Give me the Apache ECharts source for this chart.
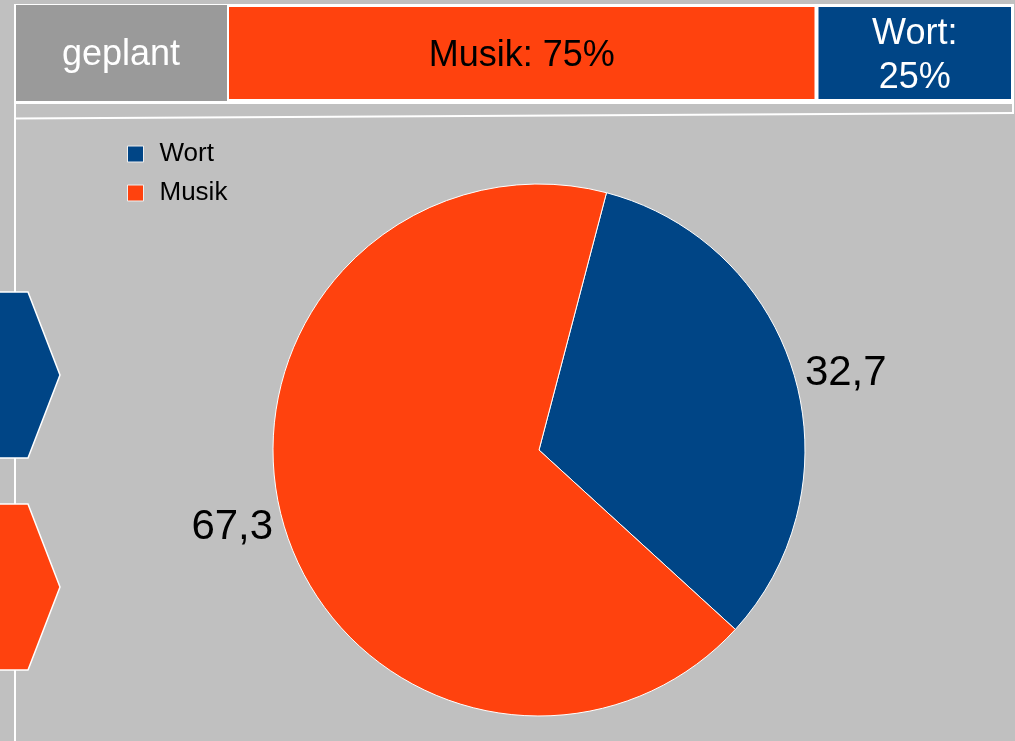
<!DOCTYPE html>
<html><head><meta charset="utf-8">
<script src="https://cdn.jsdelivr.net/npm/echarts@6/dist/echarts.min.js"></script>
<style>html,body{margin:0;padding:0;background:#c0c0c0;}#c{width:1015px;height:741px;}</style>
</head><body><div id="c"></div>
<script>
// Data
const pieNames = ['Wort', 'Musik'];
const pieValues = [32.7, 67.3];
const planNames = ['Musik', 'Wort'];
const planValues = [75, 25];
const planLabel = 'geplant';

const colors = { Wort: '#004586', Musik: '#ff420e' };
const FONT = 'Liberation Sans, Arial, sans-serif';

const chart = echarts.init(document.getElementById('c'), null, { renderer: 'canvas' });

const barSeries = planNames.map((n, i) => ({
  type: 'bar', name: n, stack: 'plan', barWidth: '100%',
  data: [planValues[i]],
  itemStyle: { color: colors[n], borderColor: '#ffffff', borderWidth: 2 },
  label: {
    show: true, position: 'inside', fontFamily: FONT, fontSize: 36, lineHeight: 44,
    offset: [0, 3],
    color: n === 'Musik' ? '#000000' : '#ffffff',
    formatter: p => n === 'Wort' ? p.seriesName + ':\n' + p.value + '%' : p.seriesName + ': ' + p.value + '%'
  },
  silent: true
}));

const option = {
  backgroundColor: '#c0c0c0',
  animation: false,
  grid: { left: 227, right: 2, top: 5, height: 96 },
  xAxis: { type: 'value', min: 0, max: 100, show: false },
  yAxis: { type: 'category', data: [planLabel], show: false },
  legend: {
    orient: 'vertical', left: 122, top: 136, itemWidth: 16, itemHeight: 16, itemGap: 13,
    data: pieNames, icon: 'rect',
    itemStyle: { borderColor: '#eeeeee', borderWidth: 1 },
    textStyle: { fontFamily: FONT, fontSize: 26, color: '#000', padding: [0, 0, 0, 11] }
  },
  graphic: [
    { type: 'rect', z: -1, shape: { x: 15, y: 4, width: 999, height: 100 }, style: { fill: '#ffffff' } },
    { type: 'rect', z: 0, shape: { x: 16, y: 5, width: 211, height: 96 }, style: { fill: '#9a9a9a' } },
    { type: 'text', z: 1, style: { text: planLabel, x: 121, y: 55, align: 'center', verticalAlign: 'middle', fill: '#ffffff', font: '36px ' + FONT } },
    { type: 'rect', z: -1, shape: { x: 16, y: 104, width: 997, height: 12 }, style: { fill: '#c0c0c0' } },
    { type: 'line', z: 2, shape: { x1: 15, y1: 4, x2: 15, y2: 741 }, style: { stroke: '#ffffff', lineWidth: 2 } },
    { type: 'line', z: 2, shape: { x1: 1013, y1: 4, x2: 1013, y2: 114 }, style: { stroke: '#ffffff', lineWidth: 2 } },
    { type: 'line', z: 2, shape: { x1: 15, y1: 118.5, x2: 1014, y2: 113 }, style: { stroke: '#ffffff', lineWidth: 2 } },
    { type: 'polygon', z: 3, shape: { points: [[-5, 292], [28, 292], [60, 375], [28, 458], [-5, 458]] }, style: { fill: colors.Wort, stroke: '#ffffff', lineWidth: 1.5 } },
    { type: 'polygon', z: 3, shape: { points: [[-5, 504], [28, 504], [60, 587], [28, 670], [-5, 670]] }, style: { fill: colors.Musik, stroke: '#ffffff', lineWidth: 1.5 } }
  ],
  series: barSeries.concat([{
    type: 'pie', name: 'Anteil', center: [539, 450], radius: 266, startAngle: 75.3, clockwise: true,
    data: pieNames.map((n, i) => ({ name: n, value: pieValues[i], itemStyle: { color: colors[n] } })),
    itemStyle: { borderColor: '#ffffff', borderWidth: 1 },
    label: { show: true, position: 'outside', fontFamily: FONT, fontSize: 42, color: '#000',
      formatter: p => String(p.value).replace('.', ',') },
    labelLine: { show: false, length: 6, length2: 0 },
    emphasis: { disabled: true }
  }])
};
chart.setOption(option);
</script></body></html>
